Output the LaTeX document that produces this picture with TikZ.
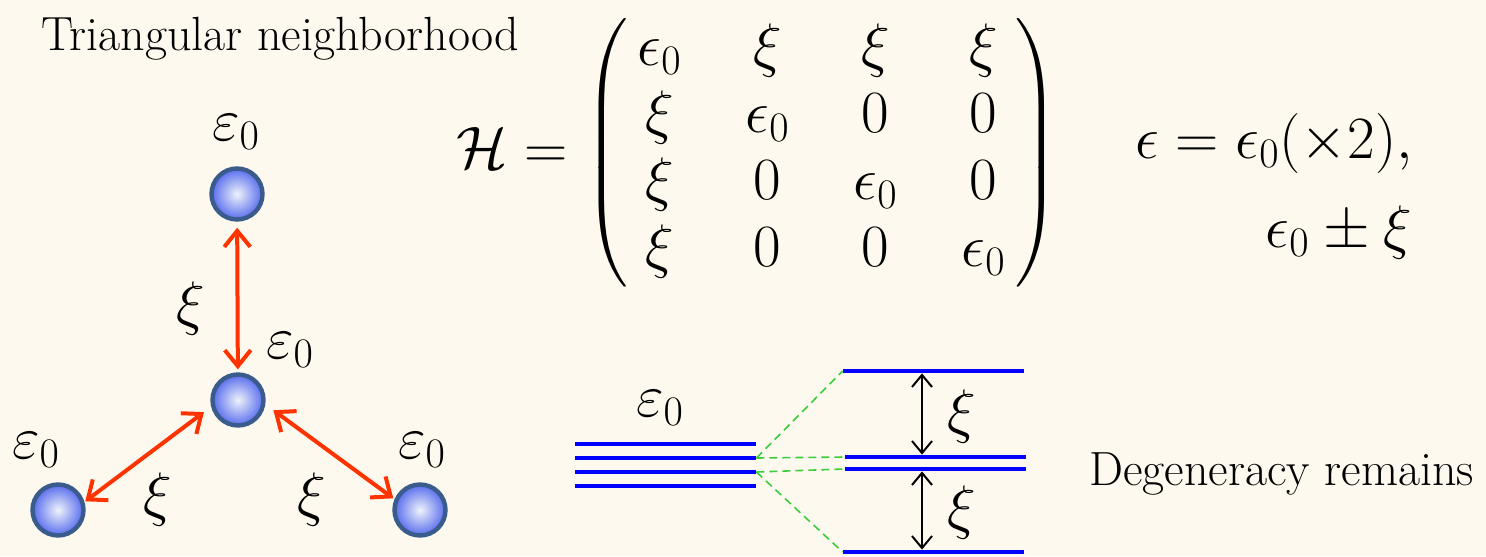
\RequirePackage{fix-cm}
\documentclass[tikz,border=0pt]{standalone}
\usepackage{amsmath}
\usetikzlibrary{arrows.meta}
\definecolor{paper}{RGB}{253,249,238}
\definecolor{rim}{RGB}{58,92,140}
\definecolor{ballblue}{RGB}{88,108,238}
\definecolor{ballcore}{RGB}{238,243,250}
\definecolor{hopred}{RGB}{255,51,0}
\definecolor{splitgreen}{RGB}{60,205,60}
\definecolor{levelblue}{RGB}{0,0,255}

\begin{document}
\begin{tikzpicture}[
		x=0.5pt, y=-0.5pt,
		site/.style={circle, draw=rim, line width=2.2pt, minimum size=25.5pt, inner sep=0pt, inner color=ballcore, outer color=ballblue},
		onsite/.style={font=\fontsize{30}{36}\selectfont, inner sep=0pt},
		hopping/.style={{Straight Barb[length=8pt, width=13pt]}-{Straight Barb[length=8pt, width=13pt]}, draw=hopred, line width=2pt},
		caption/.style={font=\fontsize{24}{28}\selectfont, inner sep=0pt},
		level/.style={fill=levelblue, minimum width=90.5pt, minimum height=2pt, inner sep=0pt},
		split/.style={draw=splitgreen, line width=0.8pt, dash pattern=on 4pt off 2.5pt},
		gaparrow/.style={{Straight Barb[length=6pt, width=10pt]}-{Straight Barb[length=6pt, width=10pt]}, line width=1pt}
	]
		\fill[paper] (0,0) rectangle (1486,556);
		\useasboundingbox (0,0) rectangle (1486,556);
		\node[caption, anchor=base west] (title) at (41,51) {Triangular neighborhood};
		\node[site] (s1) at (237,194) {};
		\node[site] (s0) at (238,400) {};
		\node[site] (sL) at (58,510) {};
		\node[site] (sR) at (420,510) {};
		\node[onsite] (e1) at (236,132) {$\varepsilon_0$};
		\node[onsite] (e0) at (290,350) {$\varepsilon_0$};
		\node[onsite] (eL) at (36,450) {$\varepsilon_0$};
		\node[onsite] (eR) at (422,450) {$\varepsilon_0$};
		\draw[hopping, shorten <=3pt, shorten >=1.5pt] (s1) -- (s0);
		\draw[hopping, shorten <=0.5pt, shorten >=4.5pt] (sL.17) -- (s0.194);
		\draw[hopping, shorten <=5pt, shorten >=0.75pt] (s0.-9) -- (sR.157);
		\node[onsite] (t1) at (191,308) {$\xi$};
		\node[onsite] (tL) at (158,499) {$\xi$};
		\node[onsite] (tR) at (312,499) {$\xi$};
		\node[font=\fontsize{30}{33.5}\selectfont, anchor=west, inner sep=0pt] (ham) at (456,153) {\setlength{\arraycolsep}{16pt}$\mathcal{H} = \left(\begin{array}{@{\hspace{5pt}}cccc@{\hspace{5pt}}}
				\epsilon_0 & \xi & \xi & \xi\\
				\xi & \epsilon_0 & 0 & 0\\
				\xi & 0 & \epsilon_0 & 0\\
				\xi & 0 & 0 & \epsilon_0
			\end{array}\right)$};
		\node[onsite, anchor=base east] (eig1) at (1413,158) {$\epsilon = \epsilon_0(\times 2),$};
		\node[onsite, anchor=base east] (eig2) at (1412,247) {$\epsilon_0 \pm \xi$};
		\node[level] (d1) at (665.5,444) {};
		\node[level] (d2) at (665.5,458) {};
		\node[level] (d3) at (665.5,472) {};
		\node[level] (d4) at (665.5,486) {};
		\node[level] (u1) at (933.5,371) {};
		\node[level] (m1) at (935.5,457) {};
		\node[level] (m2) at (935.5,469) {};
		\node[level] (b1) at (933.5,552) {};
		\node[onsite] (e5) at (660,408) {$\varepsilon_0$};
		\draw[split] (d2.east) -- (u1.west);
		\draw[split] (d2.east) -- (m1.west);
		\draw[split] (d3.east) -- (m2.west);
		\draw[split] (d3.east) -- (b1.west);
		\coordinate (gapx) at (922,460);
		\draw[gaparrow] (u1.south -| gapx) -- (m1.north -| gapx);
		\draw[gaparrow] (m2.south -| gapx) -- (b1.north -| gapx);
		\node[onsite] (t2) at (962,416) {$\xi$};
		\node[onsite] (t3) at (962,512) {$\xi$};
		\node[caption, anchor=base west] (note) at (1089,485) {Degeneracy remains};
	\end{tikzpicture}
\end{document}
